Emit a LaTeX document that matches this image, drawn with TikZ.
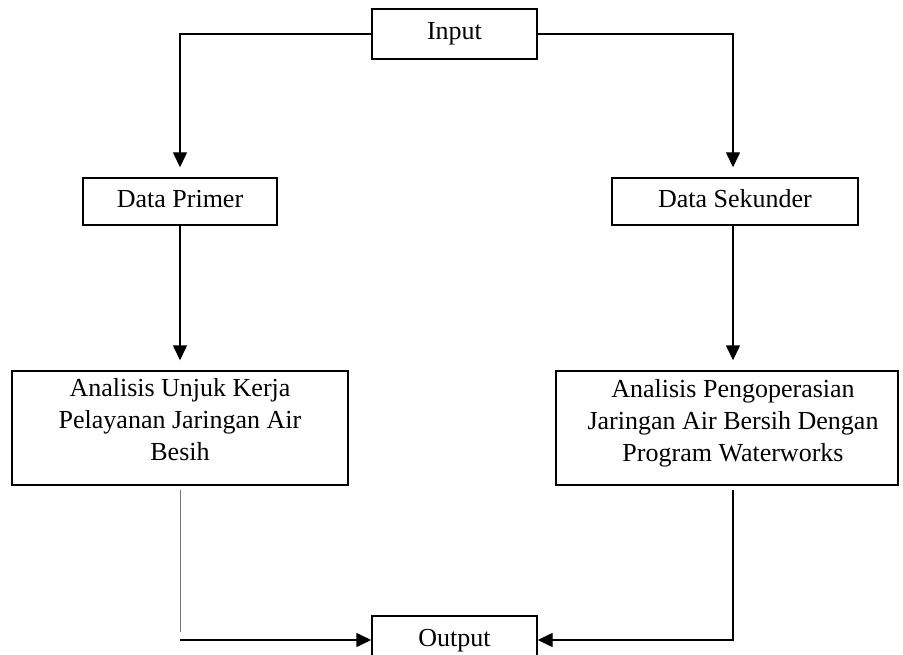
\documentclass[tikz,border=0pt]{standalone}
\usepackage{fontspec}
\setmainfont{Liberation Serif}
\usetikzlibrary{arrows.meta,calc}
\tikzset{
  box/.style={draw, line width=1.4pt, inner sep=0pt, text height=18pt, text depth=6pt, font=\fontsize{26}{32}\selectfont},
  conn/.style={line width=1.4pt, -{Triangle[length=15pt,width=14pt]}},
  vconn/.style={conn, shorten >=10pt},
  thinline/.style={line width=0.8pt, draw=black!55},
  txt/.style={align=center, font=\fontsize{26}{32}\selectfont, inner sep=0pt}
}
\begin{document}
\begin{tikzpicture}[x=1pt,y=-1pt]
\clip (0,0) rectangle (903,655);
\fill[white] (0,0) rectangle (903,655);
\coordinate (rx) at (733,0);
\node[box, minimum width=165pt, minimum height=50pt] (In) at (454.5,34) {Input};
\node[box, minimum width=194pt, minimum height=47pt] (DP) at (180,201.5) {Data Primer};
\node[box, minimum width=246pt, minimum height=47pt] (DS) at (735,201.5) {Data Sekunder};
\node[box, minimum width=336pt, minimum height=114pt] (A1) at (180,428) {};
\node[txt] (A1t) at (180,420) {Analisis Unjuk Kerja\\Pelayanan Jaringan Air\\Besih};
\node[box, minimum width=342pt, minimum height=114pt] (A2) at (727,428) {};
\node[txt] (A2t) at (733,423) {Analisis Pengoperasian\\Jaringan Air Bersih Dengan\\Program Waterworks};
\node[box, minimum width=165pt, minimum height=48pt] (Out) at (454.5,640) {Output};
\coordinate (lb) at (180,632);
% connectors
\draw[vconn] (In.west) -| (DP.north);
\draw[vconn] (In.east) -| (DS.north -| rx);
\draw[vconn] (DP.south) -- (A1.north);
\draw[vconn] (DS.south -| rx) -- (A2.north -| rx);
\draw[thinline, shorten <=4pt] (A1.south) -- (lb);
\draw[conn] (Out.west -| lb) -- (Out.west);
\draw[conn, shorten <=4pt] (A2.south -| rx) |- (Out.east);
\end{tikzpicture}
\end{document}
